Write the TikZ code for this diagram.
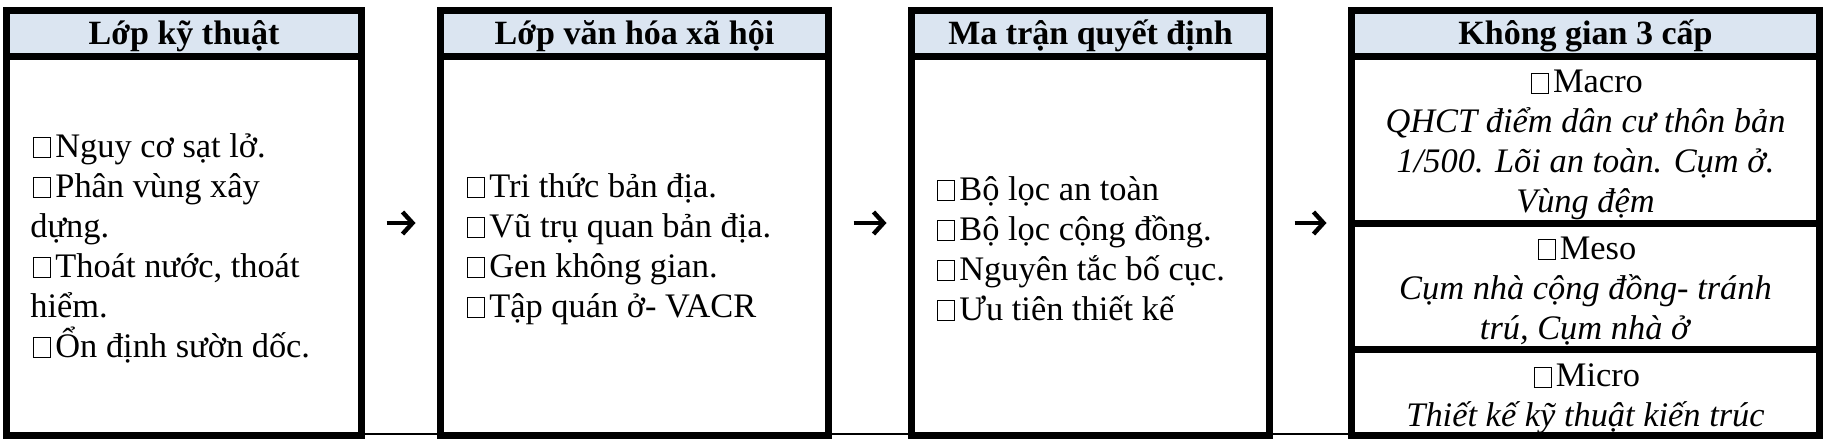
\documentclass[tikz,border=0pt]{standalone}
\usepackage{fontspec}
\setmainfont{Liberation Serif}
\usepackage{tikz}
\usetikzlibrary{arrows.meta}
\definecolor{headblue}{RGB}{219,229,241}
\newcommand{\bx}{\hspace{1.5pt}{\setlength{\fboxsep}{0pt}\setlength{\fboxrule}{0.5pt}\fbox{\rule{0pt}{9.5pt}\hspace{8pt}}}\hspace{2pt}}

\begin{document}
\begin{tikzpicture}[x=0.5pt,y=-0.5pt,
  frame/.style={draw,line width=3.5pt,minimum height=212.5pt,inner sep=0pt,outer sep=0pt},
  head/.style={draw,fill=headblue,line width=3.5pt,minimum height=23pt,inner sep=0pt,outer sep=0pt,anchor=north,text height=14pt,text depth=2.5pt,font=\fontsize{17}{20}\selectfont\bfseries},
  body/.style={align=left,inner sep=0pt,anchor=west,font=\fontsize{17.2}{20}\selectfont},
  cell/.style={align=center,inner sep=0pt,font=\fontsize{17.2}{20}\selectfont},
  flow/.style={line width=2.2pt,-{Straight Barb[length=5pt,width=11pt]},shorten <=12.5pt,shorten >=12.5pt}]
\useasboundingbox (0,0) rectangle (1826,442);
\node[frame,minimum width=177.5pt] (tech) at (184,223) {};
\node[frame,minimum width=194pt] (culture) at (634.5,223) {};
\node[frame,minimum width=179pt] (matrix) at (1090.5,223) {};
\node[frame,minimum width=234pt] (space) at (1585.5,223) {};
\node[head,minimum width=177.5pt] (techH) at (tech.north) {Lớp kỹ thuật};
\node[head,minimum width=194pt] (cultureH) at (culture.north) {Lớp văn hóa xã hội};
\node[head,minimum width=179pt] (matrixH) at (matrix.north) {Ma trận quyết định};
\node[head,minimum width=234pt] (spaceH) at (space.north) {Không gian 3 cấp};
\draw[line width=3.5pt] (space.west |- 0,223.5) -- (space.east |- 0,223.5);
\draw[line width=3.5pt] (space.west |- 0,350) -- (space.east |- 0,350);
\node[body] (techB) at (30,248) {\bx Nguy cơ sạt lở.\\\bx Phân vùng xây\\dựng.\\\bx Thoát nước, thoát\\hiểm.\\\bx Ổn định sườn dốc.};
\node[body] (cultureB) at (464,249) {\bx Tri thức bản địa.\\\bx Vũ trụ quan bản địa.\\\bx Gen không gian.\\\bx Tập quán ở- VACR};
\node[body] (matrixB) at (934,249) {\bx Bộ lọc an toàn\\\bx Bộ lọc cộng đồng.\\\bx Nguyên tắc bố cục.\\\bx Ưu tiên thiết kế};
\node[cell] (macro) at (1585.5,145) {\bx Macro\\\textit{QHCT điểm dân cư thôn bản}\\\textit{1/500. Lõi an toàn. Cụm ở.}\\\textit{Vùng đệm}};
\node[cell] (meso) at (1585.5,291) {\bx Meso\\\textit{Cụm nhà cộng đồng- tránh}\\\textit{trú, Cụm nhà ở}};
\node[cell] (micro) at (1585.5,399) {\bx Micro\\\textit{Thiết kế kỹ thuật kiến trúc}};
\draw[flow] (tech) -- (culture);
\draw[flow] (culture) -- (matrix);
\draw[flow] (matrix) -- (space);
\draw[line width=1pt] (tech.east |- 0,434) -- (culture.west |- 0,434);
\draw[line width=1pt] (culture.east |- 0,434) -- (matrix.west |- 0,434);
\draw[line width=1pt] (matrix.east |- 0,434) -- (space.west |- 0,434);
\end{tikzpicture}
\end{document}
